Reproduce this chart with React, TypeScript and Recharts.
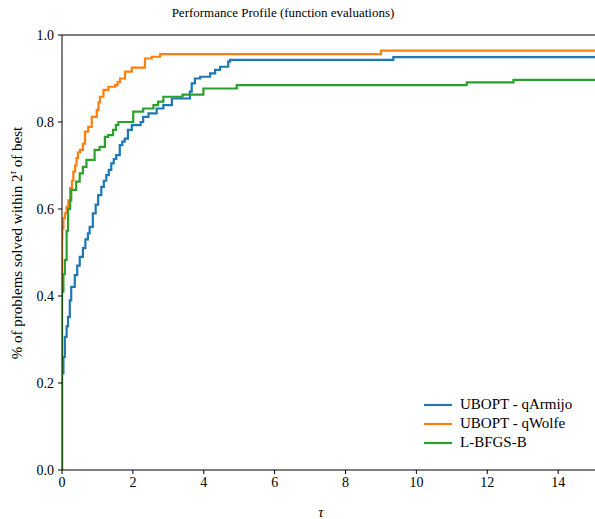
import {
  LineChart,
  Line,
  XAxis,
  YAxis,
  Legend,
  ReferenceLine,
  Customized
} from 'recharts';

// tau / fraction of problems
const armijoTau = [0, 0, 0.04, 0.08, 0.13, 0.17, 0.22, 0.26, 0.36, 0.43, 0.5, 0.59, 0.66, 0.73, 0.78, 0.87, 0.95, 1.02, 1.11, 1.18, 1.25, 1.32, 1.39, 1.46, 1.53, 1.63, 1.7, 1.77, 1.86, 1.97, 2.22, 2.29, 2.44, 2.67, 2.86, 3.1, 3.61, 3.66, 3.75, 3.9, 4.18, 4.32, 4.46, 4.69, 4.74, 9.35, 15.04];
const armijoVal = [0, 0.222, 0.26, 0.306, 0.33, 0.352, 0.39, 0.421, 0.448, 0.47, 0.49, 0.51, 0.53, 0.544, 0.559, 0.59, 0.61, 0.632, 0.651, 0.665, 0.678, 0.69, 0.705, 0.715, 0.724, 0.747, 0.755, 0.762, 0.782, 0.793, 0.8, 0.812, 0.82, 0.831, 0.839, 0.854, 0.87, 0.889, 0.9, 0.904, 0.912, 0.92, 0.927, 0.939, 0.943, 0.949, 0.949];

const wolfeTau = [0, 0, 0.01, 0.04, 0.08, 0.13, 0.18, 0.23, 0.28, 0.32, 0.37, 0.41, 0.45, 0.51, 0.59, 0.65, 0.74, 0.84, 0.98, 1.03, 1.07, 1.17, 1.31, 1.5, 1.57, 1.64, 1.78, 1.97, 2.34, 2.53, 2.77, 9.0, 15.04];
const wolfeVal = [0, 0.53, 0.555, 0.579, 0.59, 0.605, 0.62, 0.648, 0.665, 0.686, 0.7, 0.717, 0.73, 0.736, 0.75, 0.778, 0.789, 0.812, 0.828, 0.845, 0.858, 0.874, 0.881, 0.885, 0.892, 0.9, 0.916, 0.925, 0.946, 0.95, 0.956, 0.964, 0.964];

const lbfgsTau = [0, 0, 0.04, 0.08, 0.13, 0.17, 0.23, 0.26, 0.4, 0.5, 0.59, 0.69, 0.92, 1.06, 1.21, 1.3, 1.44, 1.52, 1.59, 2.01, 2.29, 2.58, 2.71, 2.86, 3.4, 3.99, 4.93, 11.42, 12.74, 15.04];
const lbfgsVal = [0, 0.41, 0.45, 0.483, 0.55, 0.6, 0.62, 0.644, 0.663, 0.682, 0.697, 0.713, 0.736, 0.743, 0.766, 0.77, 0.782, 0.793, 0.8, 0.824, 0.831, 0.839, 0.847, 0.858, 0.863, 0.877, 0.885, 0.891, 0.897, 0.897];

const xTicks = [0, 2, 4, 6, 8, 10, 12, 14];
const yTicks = [0, 0.2, 0.4, 0.6, 0.8, 1.0];

const toRows = (xs: number[], ys: number[]) => xs.map((x, i) => ({ x, y: ys[i] }));

const series = [
  { name: 'UBOPT - qArmijo', color: '#1f77b4', data: toRows(armijoTau, armijoVal) },
  { name: 'UBOPT - qWolfe', color: '#ff7f0e', data: toRows(wolfeTau, wolfeVal) },
  { name: 'L-BFGS-B', color: '#2ca02c', data: toRows(lbfgsTau, lbfgsVal) }
];

const font = '"Liberation Serif", "DejaVu Serif", serif';
const txt = { fontFamily: font };

function renderLegend() {
  return (
    <div style={{ fontFamily: font, fontSize: 15, color: '#000' }}>
      {series.map((s) => (
        <div key={s.name} style={{ display: 'flex', alignItems: 'center', height: 19 }}>
          <svg width={28} height={4} style={{ marginRight: 8 }}>
            <line x1={0} y1={2} x2={28} y2={2} stroke={s.color} strokeWidth={2.2} />
          </svg>
          <span>{s.name}</span>
        </div>
      ))}
    </div>
  );
}

function Annotations() {
  return (
    <g fill="#000" style={txt}>
      <text x={283} y={17} textAnchor="middle" fontSize={13} style={txt}>
        Performance Profile (function evaluations)
      </text>
      <text transform="translate(22, 243) rotate(-90)" textAnchor="middle" fontSize={15} style={txt}>
        % of problems solved within 2
        <tspan dy={-6} fontSize={10} fontStyle="italic">τ</tspan>
        <tspan dy={6}> of best</tspan>
      </text>
      <text x={321} y={517} textAnchor="middle" fontSize={15} fontStyle="italic" style={txt}>
        τ
      </text>
    </g>
  );
}

export default function App() {
  return (
    <div style={{ position: 'absolute', left: 0, top: 0, fontFamily: font }}>
      <LineChart
        width={595}
        height={519}
        margin={{ top: 35, right: 0, left: 0, bottom: 0 }}
        style={txt}
      >
        <XAxis
          dataKey="x"
          type="number"
          domain={[0, 15.04]}
          ticks={xTicks}
          allowDataOverflow
          height={49}
          stroke="#000"
          tickSize={4}
          tickMargin={3}
          tick={{ fill: '#000', fontSize: 14, style: txt }}
        />
        <YAxis
          type="number"
          domain={[0, 1]}
          ticks={yTicks}
          width={62}
          stroke="#000"
          tickSize={4}
          tickMargin={4}
          tickFormatter={(v: number) => v.toFixed(1)}
          tick={{ fill: '#000', fontSize: 14, style: txt }}
        />
        <ReferenceLine y={1} stroke="#000" strokeWidth={1} />
        {series.map((s) => (
          <Line
            key={s.name}
            data={s.data}
            dataKey="y"
            name={s.name}
            type="stepAfter"
            stroke={s.color}
            strokeWidth={2.2}
            dot={false}
            isAnimationActive={false}
          />
        ))}
        <Legend
          layout="horizontal"
          verticalAlign="middle"
          align="center"
          content={renderLegend}
          wrapperStyle={{ left: 424, top: 395, width: 170 }}
        />
        <Customized component={Annotations} />
      </LineChart>
    </div>
  );
}
